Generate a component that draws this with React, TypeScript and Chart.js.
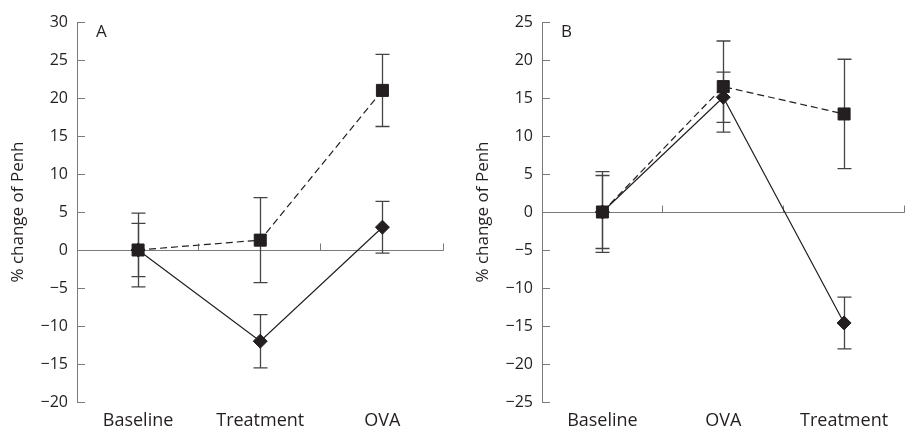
import React, { useEffect, useRef } from 'react';
import { Chart, registerables } from 'chart.js';

Chart.register(...registerables);

// ---- Data ----
const categoriesA = ['Baseline', 'Treatment', 'OVA'];
const squaresA = [0, 1.3, 21.0];
const squaresErrA = [4.85, 5.6, 4.75];
const diamondsA = [0, -12.0, 3.0];
const diamondsErrA = [3.5, 3.5, 3.4];
const yRangeA = [-20, 30];

const categoriesB = ['Baseline', 'OVA', 'Treatment'];
const squaresB = [0, 16.5, 12.9];
const squaresErrB = [5.3, 6.0, 7.2];
const diamondsB = [0, 15.1, -14.6];
const diamondsErrB = [4.8, 3.3, 3.4];
const yRangeB = [-25, 25];

const yStep = 5;
const yTitle = '% change of Penh';

const FONT = "'Open Sans', 'DejaVu Sans', sans-serif";
const INK = '#231f20';
const AXIS = '#7a7a7a';
const ERR = '#444444';

const fmtTick = (v: number) => (v < 0 ? '\u2212' + Math.abs(v) : String(v));

const panelPlugin = {
  id: 'panelExtras',
  beforeDatasetsDraw(chart: any) {
    const ctx = chart.ctx;
    const x = chart.scales.x;
    const y = chart.scales.y;
    const area = chart.chartArea;
    ctx.save();
    // inward y ticks
    ctx.strokeStyle = AXIS;
    ctx.lineWidth = 1;
    y.ticks.forEach((t: any) => {
      const py = Math.round(y.getPixelForValue(t.value)) + 0.5;
      ctx.beginPath();
      ctx.moveTo(area.left, py);
      ctx.lineTo(area.left + 8, py);
      ctx.stroke();
    });
    // ticks on zero line at category boundaries
    const zy = Math.round(y.getPixelForValue(0)) + 0.5;
    const n = chart.data.labels.length;
    const band = (area.right - area.left) / n;
    for (let i = 0; i < n; i++) {
      const px = Math.round(x.getPixelForTick(i) + band / 2) - 0.5;
      ctx.beginPath();
      ctx.moveTo(px, zy);
      ctx.lineTo(px, zy - 7);
      ctx.stroke();
    }
    // error bars
    ctx.strokeStyle = ERR;
    ctx.lineWidth = 1.3;
    chart.data.datasets.forEach((ds: any, di: number) => {
      const meta = chart.getDatasetMeta(di);
      meta.data.forEach((pt: any, j: number) => {
        const v = ds.data[j];
        const e = ds.errors[j];
        const px = Math.round(pt.x) + 0.5;
        const yt = y.getPixelForValue(v + e);
        const yb = y.getPixelForValue(v - e);
        ctx.beginPath();
        ctx.moveTo(px, yt);
        ctx.lineTo(px, yb);
        ctx.moveTo(px - 7, yt);
        ctx.lineTo(px + 7, yt);
        ctx.moveTo(px - 7, yb);
        ctx.lineTo(px + 7, yb);
        ctx.stroke();
      });
    });
    // panel letter
    ctx.fillStyle = INK;
    ctx.font = `17px ${FONT}`;
    ctx.textBaseline = 'alphabetic';
    ctx.textAlign = 'left';
    ctx.fillText(chart.options.plugins.panelExtras.letter, area.left + 19, area.top + 15);
    ctx.restore();
  },
};

function Panel(props: {
  cats: string[];
  sq: number[];
  sqErr: number[];
  di: number[];
  diErr: number[];
  range: number[];
  letter: string;
  left: number;
  width: number;
  axisW: number;
  padRight: number;
  titlePad: number;
}) {
  const ref = useRef<HTMLCanvasElement>(null);
  useEffect(() => {
    if (!ref.current) return;
    const chart = new Chart(ref.current, {
      type: 'line',
      data: {
        labels: props.cats,
        datasets: [
          {
            label: 'squares',
            data: props.sq,
            errors: props.sqErr,
            borderColor: INK,
            borderWidth: 1.2,
            borderDash: [7, 4],
            pointStyle: 'rect',
            pointRadius: 8.5,
            pointBackgroundColor: INK,
            pointBorderColor: INK,
            pointBorderWidth: 1,
            tension: 0,
          } as any,
          {
            label: 'diamonds',
            data: props.di,
            errors: props.diErr,
            borderColor: INK,
            borderWidth: 1.2,
            pointStyle: 'rectRot',
            pointRadius: 7,
            pointBackgroundColor: INK,
            pointBorderColor: INK,
            pointBorderWidth: 1,
            tension: 0,
          } as any,
        ],
      },
      options: {
        responsive: false,
        animation: false,
        devicePixelRatio: 1,
        layout: { padding: { top: 22, right: props.padRight, left: 0, bottom: 0 } },
        plugins: {
          legend: { display: false },
          tooltip: { enabled: false },
          panelExtras: { letter: props.letter },
        } as any,
        scales: {
          x: {
            type: 'category',
            offset: true,
            grid: { display: false, drawTicks: false },
            border: { display: false },
            ticks: { color: INK, font: { family: FONT, size: 18 }, padding: 8 },
            afterFit: (s: any) => {
              s.height = 29;
            },
          },
          y: {
            min: props.range[0],
            max: props.range[1],
            grid: {
              drawTicks: false,
              color: (c: any) => (c.tick && c.tick.value === 0 ? AXIS : 'rgba(0,0,0,0)'),
              lineWidth: 1,
            },
            border: { display: true, color: AXIS, width: 1 },
            ticks: {
              stepSize: yStep,
              color: INK,
              font: { family: FONT, size: 16 },
              padding: 9,
              callback: (v: any) => fmtTick(Number(v)),
            },
            title: {
              display: true,
              text: yTitle,
              color: INK,
              font: { family: FONT, size: 17 },
              padding: { top: props.titlePad, bottom: 0 },
            },
            afterFit: (s: any) => {
              s.width = props.axisW;
            },
          },
        },
      },
      plugins: [panelPlugin],
    });
    return () => chart.destroy();
  }, []);
  return (
    <canvas
      ref={ref}
      width={props.width}
      height={431}
      style={{ position: 'absolute', left: props.left, top: 0, width: props.width, height: 431 }}
    />
  );
}

export default function App() {
  return (
    <div
      style={{
        position: 'absolute',
        left: 0,
        top: 0,
        width: 907,
        height: 431,
        overflow: 'hidden',
        background: '#ffffff',
      }}
    >
      <Panel
        cats={categoriesA}
        sq={squaresA}
        sqErr={squaresErrA}
        di={diamondsA}
        diErr={diamondsErrA}
        range={yRangeA}
        letter="A"
        left={0}
        width={453}
        axisW={77}
        padRight={4}
        titlePad={8}
      />
      <Panel
        cats={categoriesB}
        sq={squaresB}
        sqErr={squaresErrB}
        di={diamondsB}
        diErr={diamondsErrB}
        range={yRangeB}
        letter="B"
        left={453}
        width={461}
        axisW={89}
        padRight={0}
        titlePad={20}
      />
    </div>
  );
}
